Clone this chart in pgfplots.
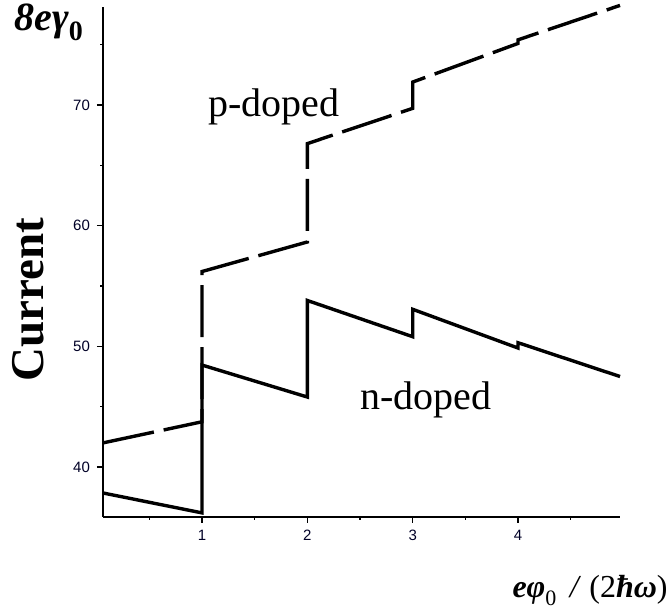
\documentclass[border=0pt]{standalone}
\usepackage{fontspec}
\setmainfont{Liberation Serif}
\newfontfamily\sansfnt{Liberation Sans}
\usepackage{pgfplots}
\pgfplotsset{compat=1.18}
\begin{document}
\begin{tikzpicture}
\useasboundingbox (0,0) rectangle (335pt,307.5pt);
\begin{axis}[
  at={(51.5pt,49pt)}, anchor=south west,
  scale only axis, width=258.5pt, height=255pt,
  xmin=0.06, xmax=4.968, ymin=35.86, ymax=78.12,
  axis x line*=bottom, axis y line*=left,
  axis line style={-, line width=0.8pt},
  tick align=outside,
  major tick length=3pt, minor tick length=1.5pt,
  tick style={black, line width=0.7pt},
  xtick={1,2,3,4}, minor xtick={0.5,1.5,2.5,3.5,4.5},
  ytick={40,50,60,70}, minor ytick={45,55,65,75},
  /pgf/number format/assume math mode=true,
  ticklabel style={font=\sansfnt\fontsize{7.5}{8}\selectfont, text=black!85!blue},
  clip=false,
]
% n-doped (solid)
\addplot[black, line width=1.7pt, line join=miter] coordinates {
  (0.06,37.85) (1,36.2) (1,48.45) (2,45.8) (2,53.8) (3,50.8) (3,53.07)
  (4,49.86) (4,50.3) (4.968,47.5)
};
% p-doped (dashed)
\addplot[black, line width=1.7pt, dash pattern=on 26pt off 5pt] coordinates {
  (0.06,42.0) (1,43.75) (1,56.2) (2,58.65) (2,66.8) (3,69.72) (3,71.9)
  (4,75.1) (4,75.4) (4.968,78.25)
};
\end{axis}
\node[anchor=base west, inner sep=0pt, font=\fontsize{20}{24}\selectfont] at (104pt,249pt) {p-doped};
\node[anchor=base west, inner sep=0pt, font=\fontsize{20}{24}\selectfont] at (180pt,102.5pt) {n-doped};
\node[anchor=base, rotate=90, inner sep=0pt, font=\bfseries\fontsize{23.5}{28}\selectfont] at (21.5pt,157.75pt) {Current};
\node[anchor=base west, inner sep=0pt, font=\fontsize{20}{24}\selectfont] at (7pt,292pt) {{\bfseries\itshape 8eγ}{\bfseries\raisebox{-5pt}{\fontsize{14}{16}\selectfont 0}}};
\node[anchor=base east, inner sep=0pt, font=\fontsize{16}{18}\selectfont] at (334pt,8.5pt) {{\bfseries\itshape eφ}\raisebox{-4pt}{\fontsize{11}{12}\selectfont 0}\,\ {\itshape /}\,\,(2{\bfseries\itshape ħω})};
\end{tikzpicture}
\end{document}
